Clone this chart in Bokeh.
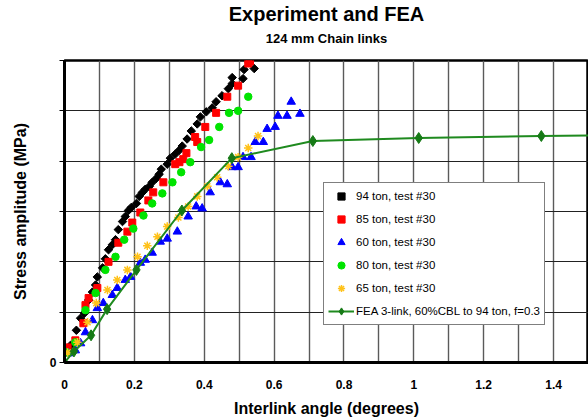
from bokeh.plotting import figure
from bokeh.models import (Title, Legend, LegendItem, SingleIntervalTicker, FixedTicker,
                          NumeralTickFormatter, Range1d)
from bokeh.embed import file_html
from bokeh.resources import INLINE

# ---- data ----
x94 = [0.006, 0.017, 0.034, 0.046, 0.057, 0.069, 0.080, 0.089, 0.094, 0.109, 0.117, 0.126,
       0.137, 0.146, 0.154, 0.166, 0.174, 0.183, 0.191, 0.206, 0.214, 0.223, 0.231, 0.243,
       0.251, 0.263, 0.271, 0.277, 0.294, 0.303, 0.317, 0.329, 0.337, 0.351, 0.363, 0.380,
       0.389, 0.406, 0.423, 0.434, 0.451, 0.469, 0.480, 0.480, 0.511, 0.514, 0.529, 0.543]
y94 = [12, 17, 32, 44, 49, 62, 70, 77, 85, 94, 103, 112,
       117, 122, 132, 140, 145, 151, 154, 158, 165, 169, 172, 175,
       179, 183, 187, 192, 197, 203, 207, 211, 215, 222, 230, 237,
       244, 249, 253, 259, 265, 272, 277, 283, 282, 291, 298, 292]

x85 = [0.003, 0.009, 0.031, 0.054, 0.060, 0.069, 0.094, 0.126, 0.154, 0.180, 0.194, 0.217,
       0.240, 0.254, 0.283, 0.317, 0.329, 0.340, 0.349, 0.380, 0.374, 0.403, 0.434, 0.466,
       0.497, 0.526, 0.531]
y85 = [12, 15, 22, 39, 57, 64, 74, 100, 119, 130, 139, 149,
       161, 169, 179, 197, 199, 202, 208, 219, 224, 234, 248, 264,
       275, 297, 299]

x60 = [0.011, 0.031, 0.046, 0.060, 0.080, 0.094, 0.111, 0.137, 0.151, 0.174, 0.189, 0.217,
       0.231, 0.251, 0.274, 0.294, 0.323, 0.354, 0.377, 0.394, 0.417, 0.446, 0.466, 0.480,
       0.497, 0.511, 0.534, 0.546, 0.569, 0.580, 0.603, 0.611, 0.637, 0.649, 0.674]
y60 = [9, 12, 19, 30, 42, 54, 59, 67, 74, 82, 85, 99,
       102, 109, 120, 123, 130, 145, 155, 153, 169, 179, 177, 194,
       194, 204, 204, 219, 219, 232, 234, 245, 245, 259, 247]

x80 = [0.006, 0.031, 0.060, 0.089, 0.117, 0.146, 0.171, 0.197, 0.226, 0.251, 0.280, 0.309,
       0.334, 0.360, 0.391, 0.414, 0.443, 0.471, 0.497, 0.526]
y80 = [10, 20, 52, 69, 92, 105, 122, 133, 146, 158, 168, 179,
       189, 199, 214, 221, 234, 248, 250, 264]

x65 = [0.009, 0.037, 0.066, 0.091, 0.123, 0.151, 0.180, 0.209, 0.237, 0.266, 0.294, 0.326,
       0.354, 0.380, 0.409, 0.437, 0.469, 0.497, 0.526, 0.554]
y65 = [10, 20, 40, 59, 72, 82, 92, 105, 116, 125, 135, 144,
       155, 165, 175, 184, 195, 204, 213, 225]

x_fea = [0.0, 0.027, 0.076, 0.122, 0.206, 0.336, 0.479, 0.711, 1.014, 1.365, 1.720]
y_fea = [0, 11, 27, 53, 92, 151, 203, 220, 223, 225, 226]

x_ticks = [0, 0.2, 0.4, 0.6, 0.8, 1.0, 1.2, 1.4]
y_ticks = [0, 50, 100, 150, 200, 250, 300]

FONT = "Liberation Sans"

p = figure(width=588, height=420, output_backend="svg", toolbar_location=None,
           x_range=Range1d(0, 1.5), y_range=Range1d(0, 300),
           min_border_left=64, min_border_right=0, min_border_top=0, min_border_bottom=58,
           title=None, background_fill_color="white", border_fill_color="white")

# spacer between subtitle and plot frame
p.add_layout(Title(text=" ", align="center", text_font=FONT, text_font_size="1px",
                   standoff=8), "above")
p.add_layout(Title(text="124 mm Chain links", align="center", text_font=FONT,
                   text_font_size="13px", text_font_style="bold", text_color="black",
                   standoff=8), "above")
p.add_layout(Title(text="Experiment and FEA", align="center", text_font=FONT,
                   text_font_size="20px", text_font_style="bold", text_color="black",
                   standoff=0), "above")

p.outline_line_color = "black"
p.outline_line_width = 2.5

# grids
p.xgrid.ticker = SingleIntervalTicker(interval=0.1)
p.xgrid.grid_line_color = "#5a5a5a"
p.xgrid.grid_line_width = 1.4
p.ygrid.ticker = FixedTicker(ticks=y_ticks)
p.ygrid.grid_line_color = "#222222"
p.ygrid.grid_line_width = 1

# axes
p.xaxis.ticker = FixedTicker(ticks=x_ticks)
p.xaxis.formatter = NumeralTickFormatter(format="0.[0]")
p.xaxis.axis_label = "Interlink angle (degrees)"
p.yaxis.ticker = FixedTicker(ticks=y_ticks)
p.yaxis.major_label_overrides = {t: "" for t in y_ticks if t != 0}
p.yaxis.axis_label = "Stress amplitude (MPa)"
for ax in (p.xaxis[0], p.yaxis[0]):
    ax.axis_line_color = "black"
    ax.axis_line_width = 3
    ax.minor_tick_line_color = None
    ax.major_label_text_font = FONT
    ax.major_label_text_font_size = "12px"
    ax.major_label_text_font_style = "bold"
    ax.major_label_text_color = "black"
    ax.axis_label_text_font = FONT
    ax.axis_label_text_font_size = "16px"
    ax.axis_label_text_font_style = "bold"
    ax.axis_label_text_color = "black"
p.xaxis.major_tick_out = 0
p.xaxis.major_tick_in = 0
p.xaxis.major_label_standoff = 17
p.xaxis.axis_label_standoff = 8
p.yaxis.major_tick_out = 5
p.yaxis.major_tick_in = 0
p.yaxis.major_tick_line_color = "black"
p.yaxis.major_label_standoff = 3
p.yaxis.axis_label_standoff = 18

r94 = p.scatter(x94, y94, marker="square", angle=0.785, size=6, color="black")
r85 = p.scatter(x85, y85, marker="square", size=7, color="#FF0000")
r60 = p.scatter(x60, y60, marker="triangle", size=8.5, color="#0000FF")
r80 = p.scatter(x80, y80, marker="circle", size=7.5, color="#00E400")
r65 = p.scatter(x65, y65, marker="asterisk", size=8.5, line_color="#FFC21A", line_width=1.5)
rfl = p.line(x_fea, y_fea, line_color="#1F8A1F", line_width=2)
rfm = p.scatter(x_fea, y_fea, marker="diamond", size=11, color="#167A16")

legend = Legend(items=[
    LegendItem(label="94 ton, test #30", renderers=[r94]),
    LegendItem(label="85 ton, test #30", renderers=[r85]),
    LegendItem(label="60 ton, test #30", renderers=[r60]),
    LegendItem(label="80 ton, test #30", renderers=[r80]),
    LegendItem(label="65 ton, test #30", renderers=[r65]),
    LegendItem(label="FEA 3-link, 60%CBL to 94 ton, f=0.3", renderers=[rfl, rfm]),
], location=(259, 37))
legend.border_line_color = "black"
legend.border_line_width = 1
legend.background_fill_color = "white"
legend.background_fill_alpha = 1
legend.label_text_font = FONT
legend.label_text_font_size = "11.5px"
legend.label_text_color = "black"
legend.label_height = 18
legend.glyph_height = 18
legend.glyph_width = 26
legend.spacing = 5
legend.padding = 4
legend.margin = 0
legend.label_standoff = 2
p.add_layout(legend, "center")

open("out.html", "w").write(file_html(p, INLINE))
